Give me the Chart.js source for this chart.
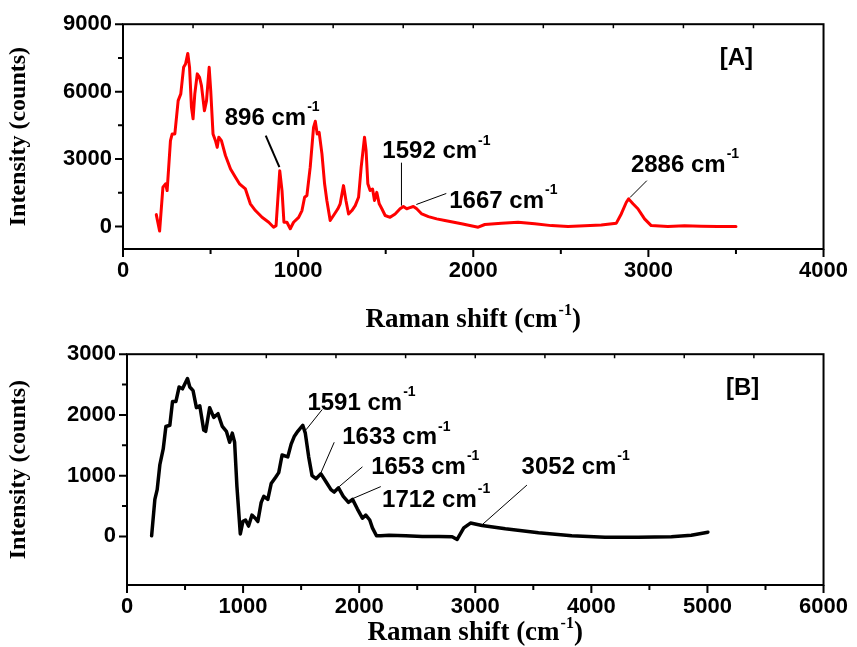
<!DOCTYPE html>
<html><head><meta charset="utf-8">
<script src="https://cdn.jsdelivr.net/npm/chart.js@4/dist/chart.umd.min.js"></script>
<style>
html,body{margin:0;padding:0;background:#fff;}
#wrap{position:relative;width:857px;height:647px;background:#fff;}
.c{position:absolute;left:0;}
</style></head><body>
<div id="wrap">
<div class="c" style="top:330px;width:857px;height:317px"><canvas id="cB"></canvas></div>
<div class="c" style="top:0;width:857px;height:340px"><canvas id="cA"></canvas></div>
</div>
<script>
// ---- Panel [A] spectrum (Raman shift, cm-1 / intensity, counts)
const shiftA = [190,209,228,243,252,271,281,296,315,330,346,357,370,380,391,400,410,424,437,448,465,477,492,501,514,528,538,547,562,585,614,642,665,699,727,756,794,832,860,874,895,908,919,936,955,974,1003,1022,1037,1050,1069,1088,1098,1109,1120,1136,1151,1164,1183,1202,1227,1240,1259,1273,1288,1307,1326,1345,1360,1379,1388,1398,1411,1425,1436,1449,1463,1478,1497,1525,1554,1582,1601,1620,1634,1658,1677,1706,1744,1791,1838,1933,2028,2066,2161,2256,2351,2446,2541,2636,2731,2817,2845,2874,2887,2912,2940,2978,3016,3111,3206,3301,3396,3500];
const intensityA = [530,-200,1750,1900,1600,3820,4120,4120,5600,5900,7080,7230,7700,7080,5300,4790,5900,6790,6640,6270,5150,5600,7080,6040,4120,3820,3520,3970,3820,3160,2560,2190,1900,1670,1010,710,410,190,-30,40,2480,1600,190,190,-100,190,410,710,1300,1380,2640,4410,4680,4120,4190,3230,1900,1160,270,490,790,1010,1820,1160,560,710,930,1300,2640,3970,3380,1900,1600,1670,1160,1520,1010,790,490,410,560,790,890,790,830,890,790,560,440,340,270,120,-30,90,150,190,120,40,0,30,70,150,560,1080,1230,1010,790,340,40,0,30,15,0,0];
// ---- Panel [B] spectrum
const shiftB = [212,240,260,283,312,335,369,392,421,449,478,498,521,541,569,598,627,661,678,712,747,784,821,856,884,907,927,947,976,999,1021,1047,1076,1105,1127,1156,1179,1213,1242,1279,1307,1336,1385,1414,1442,1471,1514,1536,1565,1594,1628,1671,1714,1757,1785,1822,1863,1908,1943,1985,2028,2057,2091,2114,2149,2186,2258,2401,2543,2687,2801,2844,2901,2959,3059,3259,3545,3831,4118,4403,4689,4861,5004];
const intensityB = [10,610,770,1180,1440,1810,1830,2220,2220,2460,2430,2510,2600,2460,2400,2120,2150,1750,1730,2120,1960,2020,1810,1730,1550,1700,1550,820,40,250,270,170,350,300,245,560,660,610,870,970,1050,1340,1310,1520,1650,1730,1830,1700,1310,1000,950,1030,900,770,730,800,660,560,610,450,300,350,270,140,10,10,20,10,0,0,-5,-50,140,220,180,125,60,10,-15,-15,-5,20,70];

// ---- tick labels
const xTicksA = [0,1000,2000,3000,4000];
const yTicksA = [0,3000,6000,9000];
const xTicksB = [0,1000,2000,3000,4000,5000,6000];
const yTicksB = [0,1000,2000,3000];

// ---- peak annotations (text anchor + leader line, in data units)
const peakLabelsA = ['896','1592','1667','2886'];
const peakLabelsB = ['1591','1633','1653','1712','3052'];

const FONT_T = "'Liberation Sans', Arial, sans-serif";
const FONT_S = "'Liberation Serif', 'Times New Roman', serif";

const annA = [
  {t:peakLabelsA[0], tx:581, ty:4800, x1:815, y1:4040, x2:893, y2:2640, lw:2},
  {t:peakLabelsA[1], tx:1481, ty:3330, x1:1590, y1:2840, x2:1590, y2:930, lw:1},
  {t:peakLabelsA[2], tx:1863, ty:1110, x1:1675, y1:980, x2:1846, y2:1470, lw:1},
  {t:peakLabelsA[3], tx:2900, ty:2710, x1:2895, y1:1290, x2:2991, y2:2040, lw:1}
];
const annB = [
  {t:peakLabelsB[0], tx:1554, ty:2190, x1:1542, y1:1755, x2:1682, y2:2090, lw:1},
  {t:peakLabelsB[1], tx:1854, ty:1625, x1:1671, y1:1050, x2:1785, y2:1550, lw:1},
  {t:peakLabelsB[2], tx:2103, ty:1140, x1:1828, y1:820, x2:2028, y2:1145, lw:1},
  {t:peakLabelsB[3], tx:2197, ty:590, x1:1929, y1:610, x2:2186, y2:820, lw:1},
  {t:peakLabelsB[4], tx:3399, ty:1140, x1:3058, y1:190, x2:3445, y2:845, lw:1}
];

function decoPlugin(cfg){
  return {
    id:'deco',
    afterDraw(chart){
      const ctx = chart.ctx, a = chart.chartArea, xs = chart.scales.x, ys = chart.scales.y;
      ctx.save();
      // frame
      ctx.strokeStyle = '#000'; ctx.lineWidth = 2;
      ctx.strokeRect(a.left, a.top, a.right - a.left, a.bottom - a.top);
      // bottom and left outward ticks
      ctx.beginPath();
      for (let v = 0; v <= xs.max + 1e-6; v += cfg.xMinor) {
        const px = xs.getPixelForValue(v);
        const major = Math.abs(v / cfg.xMajor - Math.round(v / cfg.xMajor)) < 1e-6;
        ctx.moveTo(px, a.bottom); ctx.lineTo(px, a.bottom + (major ? 8 : 5));
      }
      for (let v = 0; v <= ys.max + 1e-6; v += cfg.yMinor) {
        const py = ys.getPixelForValue(v);
        const major = Math.abs(v / cfg.yMajor - Math.round(v / cfg.yMajor)) < 1e-6;
        ctx.moveTo(a.left, py); ctx.lineTo(a.left - (major ? 8 : 5), py);
      }
      ctx.stroke();
      // top inward ticks
      ctx.lineWidth = 1.5;
      ctx.beginPath();
      const step = (xs.max - xs.min) / 10;
      for (let k = 1; k < 10; k++) {
        const px = xs.getPixelForValue(xs.min + k * step);
        ctx.moveTo(px, a.top); ctx.lineTo(px, a.top + 4);
      }
      ctx.stroke();
      // annotations
      ctx.fillStyle = '#000'; ctx.strokeStyle = '#000';
      cfg.ann.forEach(an => {
        ctx.lineWidth = an.lw;
        ctx.beginPath();
        ctx.moveTo(xs.getPixelForValue(an.x1), ys.getPixelForValue(an.y1));
        ctx.lineTo(xs.getPixelForValue(an.x2), ys.getPixelForValue(an.y2));
        ctx.stroke();
        const tx = xs.getPixelForValue(an.tx), ty = ys.getPixelForValue(an.ty);
        ctx.font = "bold 24px " + FONT_T;
        ctx.textAlign = 'left'; ctx.textBaseline = 'middle';
        const s = an.t + ' cm';
        ctx.fillText(s, tx, ty);
        const w = ctx.measureText(s).width;
        ctx.font = "bold 14px " + FONT_T;
        ctx.fillText('-1', tx + w + 1, ty - 11);
      });
      // panel tag
      ctx.font = "bold 24px " + FONT_T;
      ctx.textAlign = 'left'; ctx.textBaseline = 'middle';
      ctx.fillText(cfg.tag, xs.getPixelForValue(cfg.tagX), ys.getPixelForValue(cfg.tagY));
      // x title
      const cx = (a.left + a.right) / 2;
      ctx.font = "bold 27px " + FONT_S;
      const p1 = 'Raman shift (cm', p3 = ')';
      const w1 = ctx.measureText(p1).width, w3 = ctx.measureText(p3).width;
      ctx.font = "bold 16px " + FONT_S;
      const w2 = ctx.measureText('-1').width;
      const tot = w1 + w2 + 1 + w3;
      let x0 = cx - tot / 2;
      ctx.textBaseline = 'alphabetic';
      ctx.font = "bold 27px " + FONT_S;
      ctx.fillText(p1, x0, cfg.titleY);
      ctx.font = "bold 16px " + FONT_S;
      ctx.fillText('-1', x0 + w1 + 1, cfg.titleY - 12);
      ctx.font = "bold 27px " + FONT_S;
      ctx.fillText(p3, x0 + w1 + w2 + 1, cfg.titleY);
      // y title
      ctx.save();
      ctx.translate(cfg.yTitleX, (a.top + a.bottom) / 2);
      ctx.rotate(-Math.PI / 2);
      ctx.font = "bold 24px " + FONT_S;
      ctx.textAlign = 'center'; ctx.textBaseline = 'middle';
      ctx.fillText('Intensity (counts)', 0, 0);
      ctx.restore();
      ctx.restore();
    }
  };
}

function makeChart(id, xs, ys, color, lw, xTicks, yTicks, xr, yr, yWidth, xHeight, padTop, padBottom, cfg) {
  return new Chart(document.getElementById(id), {
    type: 'line',
    data: { datasets: [{
      data: xs.map((x, i) => ({x: x, y: ys[i]})),
      borderColor: color, borderWidth: lw, pointRadius: 0, tension: 0, fill: false,
      borderJoinStyle: 'round', borderCapStyle: 'round'
    }]},
    options: {
      responsive: true, maintainAspectRatio: false, animation: false, devicePixelRatio: 1,
      layout: { padding: { top: padTop, right: 30, left: 0, bottom: padBottom } },
      plugins: { legend: { display: false }, tooltip: { enabled: false } },
      scales: {
        x: {
          type: 'linear', min: xr[0], max: xr[1],
          afterBuildTicks: s => { s.ticks = xTicks.map(v => ({value: v})); },
          afterFit: s => { s.height = xHeight; },
          grid: { display: false, drawTicks: false }, border: { display: false },
          ticks: { color: '#000', padding: 9, maxRotation: 0, autoSkip: false,
                   callback: v => String(v),
                   font: { family: FONT_T, size: 22, weight: 'bold' } }
        },
        y: {
          type: 'linear', min: yr[0], max: yr[1],
          afterBuildTicks: s => { s.ticks = yTicks.map(v => ({value: v})); },
          afterFit: s => { s.width = yWidth; },
          grid: { display: false, drawTicks: false }, border: { display: false },
          ticks: { color: '#000', padding: 11, autoSkip: false,
                   callback: v => String(v),
                   font: { family: FONT_T, size: 22, weight: 'bold' } }
        }
      }
    },
    plugins: [decoPlugin(cfg)]
  });
}

makeChart('cA', shiftA, intensityA, '#ff0000', 3, xTicksA, yTicksA, [0, 4000], [-1000, 9000], 123, 81, 24, 10,
  {xMinor: 500, xMajor: 1000, yMinor: 1500, yMajor: 3000, ann: annA, tag: '[A]', tagX: 3407, tagY: 7470, titleY: 327, yTitleX: 19});
makeChart('cB', shiftB, intensityB, '#000000', 3.5, xTicksB, yTicksB, [0, 6000], [-800, 3000], 127, 62, 13, 0,
  {xMinor: 500, xMajor: 1000, yMinor: 500, yMajor: 1000, ann: annB, tag: '[B]', tagX: 5159, tagY: 2440, titleY: 310, yTitleX: 19});
</script>
</body></html>
